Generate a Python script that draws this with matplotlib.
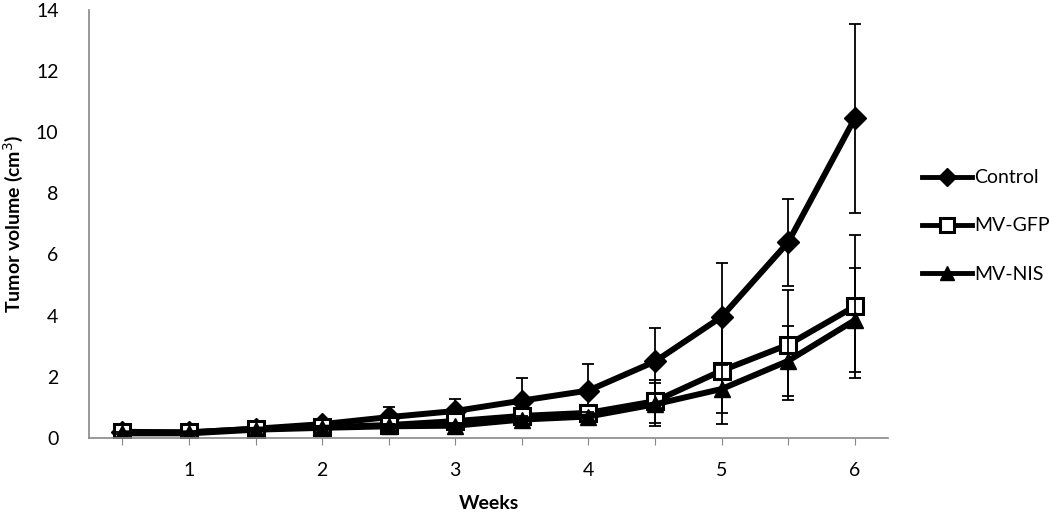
import numpy as np
import matplotlib.pyplot as plt

plt.rcParams['font.family'] = ['Lato', 'DejaVu Sans']

weeks = [0.5, 1, 1.5, 2, 2.5, 3, 3.5, 4, 4.5, 5, 5.5, 6]
control = [0.18, 0.18, 0.30, 0.45, 0.68, 0.88, 1.22, 1.55, 2.50, 3.96, 6.40, 10.45]
control_err = [0.05, 0.05, 0.08, 0.10, 0.32, 0.40, 0.74, 0.88, 1.10, 1.76, 1.42, 3.10]
gfp = [0.20, 0.18, 0.30, 0.35, 0.42, 0.55, 0.72, 0.82, 1.20, 2.20, 3.05, 4.30]
gfp_err = [0.03, 0.03, 0.05, 0.06, 0.08, 0.10, 0.15, 0.20, 0.70, 1.74, 1.80, 2.33]
nis = [0.15, 0.15, 0.27, 0.33, 0.38, 0.40, 0.60, 0.70, 1.10, 1.60, 2.52, 3.85]
nis_err = [0.03, 0.03, 0.05, 0.06, 0.08, 0.10, 0.12, 0.15, 0.70, 0.78, 1.14, 1.70]

fig = plt.figure(figsize=(10.5, 5.14), dpi=100)
ax = fig.add_axes([0.0848, 0.148, 0.761, 0.833])

lw = 4.3
ekw = dict(fmt='none', ecolor='black', elinewidth=1.3, capsize=4.5, capthick=1.3)
styles = [
    (control, control_err, 'Control', dict(marker='D', markersize=11, markerfacecolor='black')),
    (gfp, gfp_err, 'MV-GFP', dict(marker='s', markersize=12, markerfacecolor='white', markeredgewidth=2.2)),
    (nis, nis_err, 'MV-NIS', dict(marker='^', markersize=12, markerfacecolor='black')),
]
for vals, err, name, mk in styles:
    ax.errorbar(weeks, vals, yerr=err, **ekw)
    ax.plot(weeks, vals, color='black', lw=lw, markeredgecolor='black', label=name, **mk)

ax.set_xlim(0.25, 6.25)
ax.set_ylim(0, 14)
ax.set_yticks(np.arange(0, 15, 2))
xt = np.arange(0.5, 6.01, 0.5)
ax.set_xticks(xt)
ax.set_xticklabels(['' if t % 1 else str(int(t)) for t in xt])

for s in ['top', 'right']:
    ax.spines[s].set_visible(False)
for s in ['left', 'bottom']:
    ax.spines[s].set_color('#888888')
    ax.spines[s].set_linewidth(1.2)
ax.tick_params(axis='y', length=0, pad=22, labelsize=14)
ax.tick_params(axis='x', length=5, color='#888888', pad=12, labelsize=14)

ax.set_xlabel('Weeks', fontsize=14, fontweight='bold', labelpad=12)
ax.set_ylabel('Tumor volume (cm$^3$)', fontsize=14, fontweight='bold', labelpad=8)

leg = ax.legend(loc='center left', bbox_to_anchor=(1.02, 0.495), frameon=False,
                fontsize=14, handlelength=2.6, handletextpad=0.1,
                labelspacing=1.6, markerscale=0.85)
for h in leg.legend_handles:
    h.set_linewidth(3.5)

fig.savefig('out.png', dpi=100)
